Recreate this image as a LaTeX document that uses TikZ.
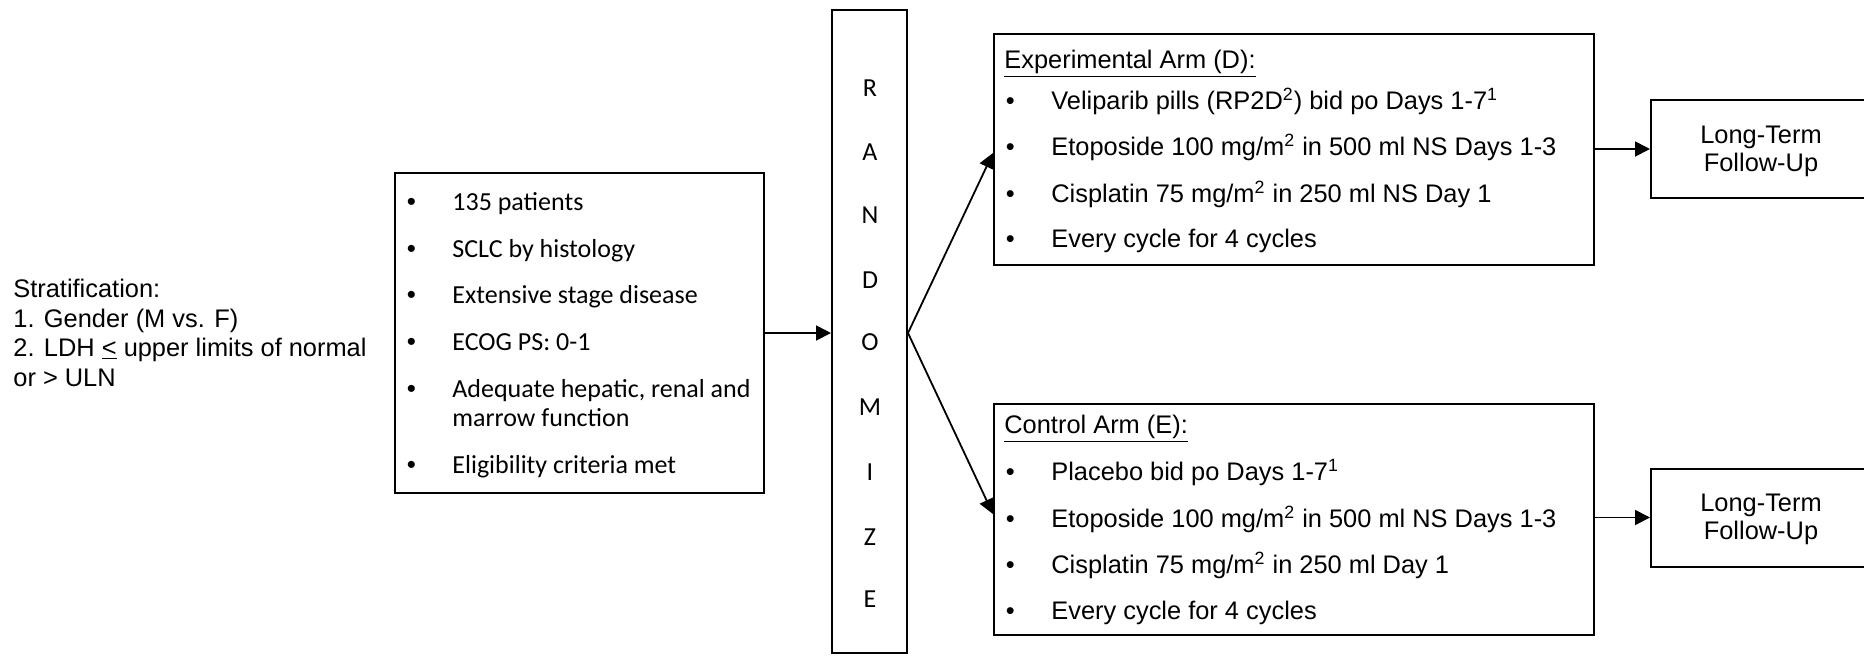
\documentclass[tikz,border=0pt]{standalone}
\usepackage{fontspec}
\setmainfont{Liberation Sans}
\newfontfamily\arialf{Liberation Sans}
\newfontfamily\calibri{Carlito}
\usetikzlibrary{arrows.meta}
\newcommand{\bul}[1]{\makebox[22.75pt][l]{{\arialf\textbullet}}#1}
\begin{document}
\begin{tikzpicture}[x=0.5pt,y=-0.5pt,
  font=\fontsize{12.7}{15.2}\selectfont,
  frame/.style={draw, line width=1pt, inner sep=0pt, rectangle},
  txt/.style={anchor=base west, inner sep=0pt},
  ctr/.style={anchor=base, inner sep=0pt},
  cal/.style={font=\fontsize{13}{15.6}\calibri},
  arr/.style={draw, line width=0.9pt, -{Triangle[length=7.5pt,width=7.5pt]}}]
\useasboundingbox (0,0) rectangle (1864,655);
\clip (0,0) rectangle (1864,655);

% stratification
\node[txt] (s1) at (13,297) {Stratification:};
\node[txt] (s2) at (13,327) {1. Gender (M vs. F)};
\node[txt] (s3) at (13,356) {2. LDH \underline{<} upper limits of normal};
\node[txt] (s4) at (13,386) {or > ULN};

% inclusion box
\node[frame, minimum width=184.5pt, minimum height=160pt] (inc) at (579.5,333) {};
\node[txt,cal] (i1) at (406.5,210) {\bul{135 patients}};
\node[txt,cal] (i2) at (406.5,257) {\bul{SCLC by histology}};
\node[txt,cal] (i3) at (406.5,303) {\bul{Extensive stage disease}};
\node[txt,cal] (i4) at (406.5,350) {\bul{ECOG PS: 0-1}};
\node[txt,cal] (i5) at (406.5,397) {\bul{Adequate hepatic, renal and}};
\node[txt,cal] (i5b) at (452,426) {marrow function};
\node[txt,cal] (i6) at (406.5,473) {\bul{Eligibility criteria met}};

% randomize
\node[frame, minimum width=37.5pt, minimum height=321.5pt] (rand) at (869.5,331.5) {};
\foreach \l/\y [count=\i] in {R/88,A/152,N/215,D/280,O/342,M/407,I/472,Z/537,E/599}
  \node[cal, inner sep=0pt] (r\i) at (870,\y) {\l};

% experimental arm
\node[frame, minimum width=300pt, minimum height=115.5pt] (armD) at (1294,149.5) {};
\node[txt] (dh) at (1004,68) {\underline{Experimental Arm (D):}};
\node[txt] (d1) at (1005.5,109) {\bul{Veliparib pills (RP2D\textsuperscript{2}) bid po Days 1-7\textsuperscript{1}}};
\node[txt] (d2) at (1005.5,155) {\bul{Etoposide 100 mg/m\textsuperscript{2} in 500 ml NS Days 1-3}};
\node[txt] (d3) at (1005.5,202) {\bul{Cisplatin 75 mg/m\textsuperscript{2} in 250 ml NS Day 1}};
\node[txt] (d4) at (1005.5,247) {\bul{Every cycle for 4 cycles}};

% control arm
\node[frame, minimum width=300pt, minimum height=115.5pt] (armE) at (1294,519.5) {};
\node[txt] (eh) at (1004,433) {\underline{Control Arm (E):}};
\node[txt] (e1) at (1005.5,480) {\bul{Placebo bid po Days 1-7\textsuperscript{1}}};
\node[txt] (e2) at (1005.5,527) {\bul{Etoposide 100 mg/m\textsuperscript{2} in 500 ml NS Days 1-3}};
\node[txt] (e3) at (1005.5,573) {\bul{Cisplatin 75 mg/m\textsuperscript{2} in 250 ml Day 1}};
\node[txt] (e4) at (1005.5,619) {\bul{Every cycle for 4 cycles}};

% follow-up
\node[frame, minimum width=111pt, minimum height=49pt] (fuD) at (1762,149) {};
\node[ctr] (fuD1) at (1761,143) {Long-Term};
\node[ctr] (fuD2) at (1761,171) {Follow-Up};
\node[frame, minimum width=111pt, minimum height=49pt] (fuE) at (1762,517.5) {};
\node[ctr] (fuE1) at (1761,511) {Long-Term};
\node[ctr] (fuE2) at (1761,539) {Follow-Up};

% connectors
\draw[arr] (inc.east) -- (inc.east -| rand.west);
\draw[arr] (inc.east -| rand.east) -- ([yshift=-1.75pt]armD.west);
\draw[arr] (inc.east -| rand.east) -- ([yshift=2.75pt]armE.west);
\draw[arr] (armD.east |- fuD.west) -- (fuD.west);
\draw[arr] (armE.east |- fuE.west) -- (fuE.west);
\end{tikzpicture}
\end{document}
